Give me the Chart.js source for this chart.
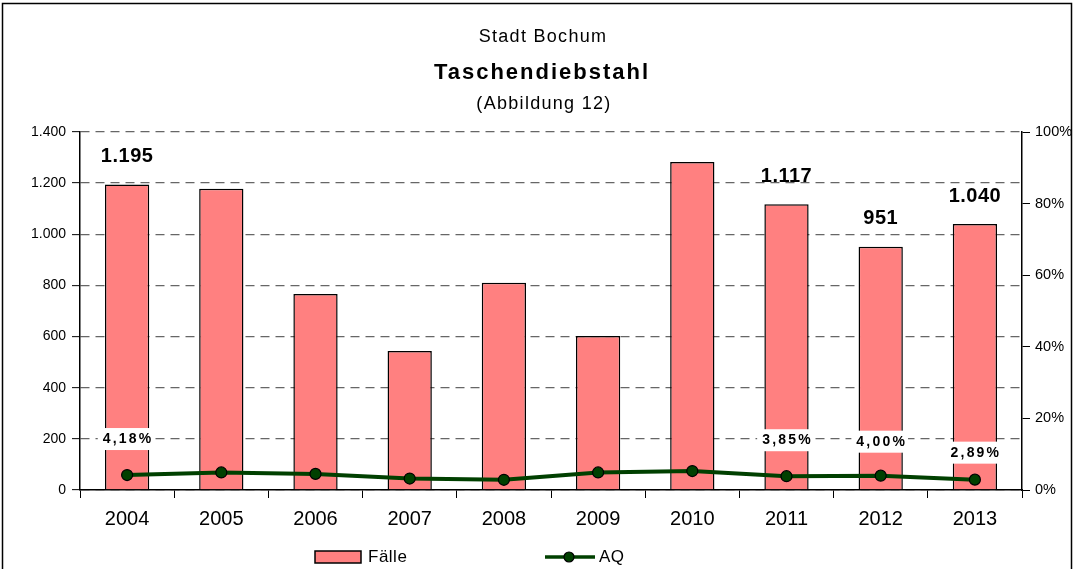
<!DOCTYPE html>
<html>
<head>
<meta charset="utf-8">
<script src="https://cdn.jsdelivr.net/npm/chart.js@4"></script>
<style>
  html, body { margin: 0; padding: 0; background: #fff; }
  #wrap { width: 1077px; height: 569px; }
</style>
</head>
<body>
<div id="wrap"><canvas id="chart" width="1077" height="569"></canvas></div>
<script>
// Werte
const years = ["2004", "2005", "2006", "2007", "2008", "2009", "2010", "2011", "2012", "2013"];
const faelle = [1195, 1178, 766, 544, 810, 602, 1283, 1117, 951, 1040];
const aq = [4.18, 4.9, 4.5, 3.2, 2.85, 4.9, 5.3, 3.85, 4.00, 2.89];
const labelled = [0, 7, 8, 9];
const leftTicks = [0, 200, 400, 600, 800, 1000, 1200, 1400];
const rightTicks = [0, 20, 40, 60, 80, 100];

const fmt = n => String(n).replace(/\B(?=(\d{3})+(?!\d))/g, ".");
const fmtPct = n => n.toFixed(2).replace(".", ",") + "%";

const FONT = "Liberation Sans, Arial, sans-serif";

// Titel, Rahmen, Beschriftungen und Legende
const decor = {
  id: "decor",
  afterDraw(chart) {
    const c = chart.ctx;
    c.save();
    c.strokeStyle = "#000";
    c.lineWidth = 1.5;
    c.strokeRect(2.5, 3.5, 1069, 600);

    c.fillStyle = "#000";
    c.textAlign = "center";
    c.textBaseline = "middle";
    c.letterSpacing = "1.3px";
    c.font = "18px " + FONT;
    c.fillText("Stadt Bochum", 543, 37);
    c.letterSpacing = "2px";
    c.font = "bold 22px " + FONT;
    c.fillText("Taschendiebstahl", 542, 73);
    c.letterSpacing = "1.3px";
    c.font = "18px " + FONT;
    c.fillText("(Abbildung 12)", 544, 104);

    const bars = chart.getDatasetMeta(0).data;
    const pts = chart.getDatasetMeta(1).data;
    const pctOffset = { 0: 36, 7: 36, 8: 34, 9: 27 };
    labelled.forEach(i => {
      const b = bars[i];
      c.font = "bold 20px " + FONT;
      c.fillStyle = "#000";
      c.letterSpacing = "0.5px";
      c.fillText(fmt(faelle[i]), b.x, b.y - 28);

      const p = pts[i];
      c.font = "bold 14px " + FONT;
      c.letterSpacing = "2.2px";
      const txt = fmtPct(aq[i]);
      const w = c.measureText(txt).width + 4;
      const y = p.y - pctOffset[i];
      c.fillStyle = "#fff";
      c.fillRect(b.x - w / 2 - 2, y - 11, w + 2, 22);
      c.fillStyle = "#000";
      c.fillText(txt, b.x + 1, y);
    });
    c.letterSpacing = "0px";

    // Legende
    c.fillStyle = "#ff8080";
    c.fillRect(315, 551, 46, 12);
    c.strokeStyle = "#000";
    c.lineWidth = 1.5;
    c.strokeRect(315, 551, 46, 12);
    c.fillStyle = "#000";
    c.textAlign = "left";
    c.font = "17px " + FONT;
    c.letterSpacing = "0.5px";
    c.fillText("Fälle", 368, 557);

    c.strokeStyle = "#004000";
    c.lineWidth = 3.5;
    c.beginPath();
    c.moveTo(545, 557);
    c.lineTo(595, 557);
    c.stroke();
    c.beginPath();
    c.arc(569, 557, 5, 0, Math.PI * 2);
    c.fillStyle = "#004000";
    c.fill();
    c.lineWidth = 1.2;
    c.strokeStyle = "#000";
    c.stroke();
    c.fillStyle = "#000";
    c.fillText("AQ", 599, 557);
    c.restore();
  }
};

new Chart(document.getElementById("chart"), {
  type: "bar",
  data: {
    labels: years,
    datasets: [
      {
        type: "bar",
        label: "Fälle",
        data: faelle,
        backgroundColor: "#ff8080",
        borderColor: "#000",
        borderWidth: 1.5,
        barPercentage: 0.47,
        categoryPercentage: 1,
        yAxisID: "y",
        order: 2
      },
      {
        type: "line",
        label: "AQ",
        data: aq,
        borderColor: "#004000",
        borderWidth: 4,
        backgroundColor: "#004000",
        pointBackgroundColor: "#004000",
        pointBorderColor: "#000",
        pointBorderWidth: 1.2,
        pointRadius: 5.5,
        tension: 0,
        yAxisID: "y1",
        order: 1
      }
    ]
  },
  options: {
    responsive: false,
    animation: false,
    layout: { padding: { top: 132, left: 0, right: 0, bottom: 0 } },
    plugins: {
      legend: { display: false },
      tooltip: { enabled: false }
    },
    scales: {
      x: {
        afterFit: s => { s.height = 79; },
        grid: { display: true, drawOnChartArea: false, offset: true, tickLength: 8, tickColor: "#000", tickWidth: 1 },
        border: { display: true, color: "#000", width: 1.5 },
        ticks: { color: "#000", padding: 9, font: { family: FONT, size: 20 } }
      },
      y: {
        position: "left",
        min: 0,
        max: 1400,
        afterFit: s => { s.width = 80; },
        afterBuildTicks: s => { s.ticks = leftTicks.map(v => ({ value: v })); },
        grid: { color: "#666", lineWidth: 1.3, tickLength: 8, tickColor: "#000", tickWidth: 1, tickBorderDash: [] },
        border: { display: true, color: "#000", width: 1.5, dash: [9, 6] },
        ticks: { color: "#000", padding: 6, font: { family: FONT, size: 14 }, callback: v => fmt(v) }
      },
      y1: {
        position: "right",
        min: 0,
        max: 100,
        afterFit: s => { s.width = 55; },
        afterBuildTicks: s => { s.ticks = rightTicks.map(v => ({ value: v })); },
        grid: { drawOnChartArea: false, tickLength: 8, tickColor: "#000", tickWidth: 1 },
        border: { display: true, color: "#000", width: 1.5 },
        ticks: { color: "#000", padding: 5, font: { family: FONT, size: 14.5 }, callback: v => v + "%" }
      }
    }
  },
  plugins: [decor]
});
</script>
</body>
</html>
